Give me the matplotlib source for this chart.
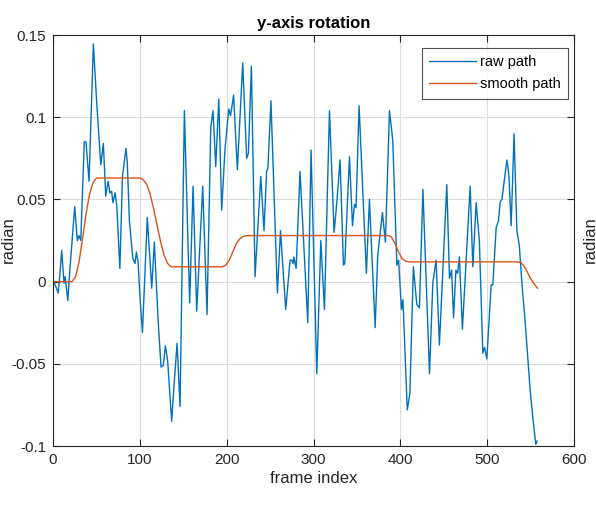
import matplotlib
matplotlib.use("Agg")
import matplotlib.pyplot as plt

plt.rcParams['font.family'] = ['Liberation Sans', 'DejaVu Sans']

raw_frames = [1, 4, 6, 8, 10, 12.7, 14, 17, 20, 25, 28, 30, 32, 36, 38, 41.5, 46.5, 50, 55, 58,
              60.7, 63.5, 65.5, 67.5, 69, 71.5, 73.5, 77, 80, 84, 85.5, 88, 92, 94.5, 96, 98, 100,
              103, 108.6, 113.7, 116.7, 121, 124.4, 127, 129.4, 132, 136.7, 139.8, 142.9, 146.3,
              151.3, 157.4, 161.3, 165.5, 172.4, 177.4, 181.7, 184.3, 187.4, 190.9, 194.3, 198,
              202.4, 204.5, 208, 212.3, 218.5, 223, 225, 228.5, 232.7, 239.3, 243, 246, 247.5, 251,
              258.4, 262, 268, 273, 275, 276.5, 277.4, 280, 284.5, 293.4, 297.2, 303.8, 308.4,
              312.6, 318.4, 323.7, 326.8, 330.6, 334.5, 336, 341.4, 344.9, 347.2, 349, 352.5,
              360.9, 364.4, 371, 374, 379.4, 382.8, 387.5, 391.3, 396, 398, 401.3, 403, 408, 411,
              415, 419, 422, 426, 433.6, 437.4, 441.2, 445, 453.5, 456.6, 459, 461.3, 464, 466,
              468, 471.5, 475.5, 480.4, 483.5, 487.3, 491, 495, 497, 499.6, 504.6, 506.5, 510.4,
              513, 515, 517, 522.7, 525, 527.6, 531, 534.2, 537, 540, 543.8, 549.5, 553, 556, 557.5]
raw_values = [0.000, -0.004, -0.007, 0.005, 0.019, -0.001, 0.003, -0.0116, 0.011, 0.0456, 0.025,
              0.028, 0.025, 0.085, 0.085, 0.061, 0.1445, 0.112, 0.071, 0.084,
              0.052, 0.061, 0.054, 0.055, 0.048, 0.054, 0.046, 0.008, 0.064, 0.081, 0.073, 0.037,
              0.014, 0.011, 0.018, 0.012, -0.008,
              -0.031, 0.039, -0.004, 0.024, -0.023, -0.052, -0.051, -0.039, -0.048, -0.085, -0.060,
              -0.0375, -0.076,
              0.104, -0.013, 0.058, -0.018, 0.058, -0.020, 0.094, 0.104, 0.070, 0.111, 0.0435, 0.080,
              0.105, 0.101, 0.1135, 0.068, 0.133, 0.075, 0.078, 0.131, 0.003, 0.064, 0.031, 0.067,
              0.069, 0.110,
              -0.007, 0.031, -0.017, 0.013, 0.013, 0.011, 0.015, 0.008, 0.067, -0.025, 0.080,
              -0.056, 0.025,
              -0.017, 0.104, 0.030, 0.0476, 0.074, 0.010, 0.011, 0.076, 0.034, 0.047, 0.045, 0.107,
              0.005, 0.050, -0.028, 0.016, 0.042, 0.024, 0.104, 0.086, 0.010, 0.013, -0.017, -0.011,
              -0.078, -0.068,
              0.009, -0.014, -0.016, 0.056, -0.056, -0.001, 0.013, -0.0386, 0.059, 0.002, 0.007,
              -0.022, 0.007, 0.005,
              0.015, -0.029, 0.010, 0.058, 0.009, 0.048, 0.025, -0.0436, -0.040, -0.047, -0.002,
              -0.002, 0.033,
              0.037, 0.0486, 0.050, 0.074, 0.065, 0.034, 0.090, 0.031, 0.022, -0.001, -0.025,
              -0.066, -0.085, -0.099, -0.097]

smooth_frames = [1, 22, 26, 30, 34, 38, 42, 46, 50, 100, 104, 108, 112, 116, 120, 124, 128, 132,
                 136, 140, 195, 199, 203, 207, 211, 215, 219, 223, 386, 390, 394, 398, 402, 406,
                 410, 535, 539, 543, 547, 551, 555, 558]
smooth_values = [0, 0, 0.003, 0.012, 0.026, 0.041, 0.053, 0.060, 0.063, 0.063, 0.062, 0.059,
                 0.053, 0.044, 0.034, 0.024, 0.016, 0.011, 0.009, 0.009, 0.009, 0.010, 0.013,
                 0.018, 0.023, 0.026, 0.0275, 0.028, 0.028, 0.027, 0.023, 0.018, 0.014, 0.0125,
                 0.012, 0.012, 0.0115, 0.009, 0.005, 0.001, -0.002, -0.004]

xticks = [0, 100, 200, 300, 400, 500, 600]
yticks = [-0.1, -0.05, 0, 0.05, 0.1, 0.15]
ytick_labels = ['-0.1', '-0.05', '0', '0.05', '0.1', '0.15']

fig = plt.figure(figsize=(5.96, 5.05), dpi=100)
ax = fig.add_axes([53/596, 59/505, 521/596, 411/505])

ax.plot(raw_frames, raw_values, color='#0072BD', lw=1.0, label='raw path')
ax.plot(smooth_frames, smooth_values, color='#D95319', lw=1.0, label='smooth path')

ax.set_xlim(0, 600)
ax.set_ylim(-0.1, 0.15)
ax.set_xticks(xticks)
ax.set_yticks(yticks)
ax.set_yticklabels(ytick_labels)
ax.grid(True, color='#dcdcdc', lw=0.8)
ax.set_axisbelow(True)
ax.tick_params(direction='in', top=True, right=True, length=5, width=0.8,
               labelsize=11, colors='#262626', pad=5)
for s in ax.spines.values():
    s.set_color('#262626')
    s.set_linewidth(0.8)

ax.set_title('y-axis rotation', fontsize=12, fontweight='bold', color='#000000', pad=5)
ax.set_xlabel('frame index', fontsize=12, color='#262626', labelpad=3)
fig.text(8/596, 0.5 + (505/2 - 240)/505, 'radian', rotation=90, fontsize=12,
         color='#262626', ha='center', va='center')
fig.text(590/596, 0.5 + (505/2 - 240)/505, 'radian', rotation=90, fontsize=12,
         color='#262626', ha='center', va='center')

leg = ax.legend(loc='upper right', bbox_to_anchor=(1 - 6/521, 1 - 13/411), fontsize=10.5,
                frameon=True, fancybox=False, edgecolor='#262626', handlelength=3.2,
                borderpad=0.5, labelspacing=0.55, handletextpad=0.3, borderaxespad=0)
leg.get_frame().set_linewidth(0.8)

fig.savefig('out.png', dpi=100)
